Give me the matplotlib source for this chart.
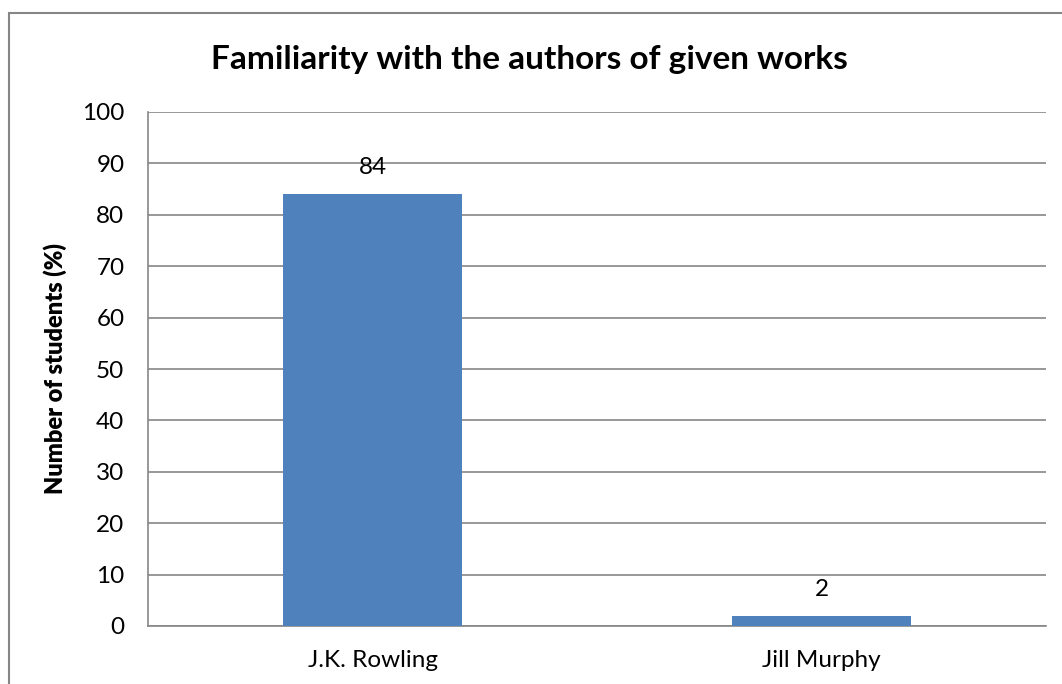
import matplotlib.pyplot as plt
from matplotlib.patches import Rectangle

authors = ['J.K. Rowling', 'Jill Murphy']
students_pct = [84, 2]
y_ticks = list(range(0, 101, 10))

plt.rcParams['font.family'] = ['Lato', 'DejaVu Sans']

fig = plt.figure(figsize=(10.62, 6.84), dpi=100)
ax = fig.add_axes([148 / 1062, 58 / 684, 898 / 1062, 514 / 684])

grid_col = '#868686'
bar_col = '#4F81BD'

# chart frame (runs off the right and bottom edges)
fig.patches.append(Rectangle((9 / 1062, -0.05), 1.2, (684 - 13) / 684 + 0.05,
                             transform=fig.transFigure, fill=False,
                             edgecolor=grid_col, linewidth=1.5))

x = range(len(authors))
bars = ax.bar(x, students_pct, width=0.4, color=bar_col, zorder=3)

for i, v in enumerate(students_pct):
    ax.annotate(str(v), (i, v), xytext=(0, 19), textcoords='offset points',
                ha='center', va='center', fontsize=17.5)

ax.set_xlim(-0.5, len(authors) - 0.5)
ax.set_ylim(0, 100)
ax.set_yticks(y_ticks)
ax.set_xticks(list(x))
ax.set_xticklabels(authors)
ax.tick_params(axis='both', length=0, labelsize=17.5)
ax.tick_params(axis='y', pad=17)
ax.tick_params(axis='x', pad=17)

ax.yaxis.grid(True, color=grid_col, linewidth=1.2, zorder=0)
ax.set_axisbelow(True)
for s in ['top', 'right']:
    ax.spines[s].set_visible(False)
for s in ['left', 'bottom']:
    ax.spines[s].set_color(grid_col)
    ax.spines[s].set_linewidth(1.2)

ax.set_ylabel('Number of students (%)', fontsize=17, fontweight='heavy', labelpad=11)
fig.text(529 / 1062, 1 - 60 / 684, 'Familiarity with the authors of given works',
         ha='center', va='center', fontsize=24, fontweight='bold')

fig.savefig('out.png', dpi=100)
